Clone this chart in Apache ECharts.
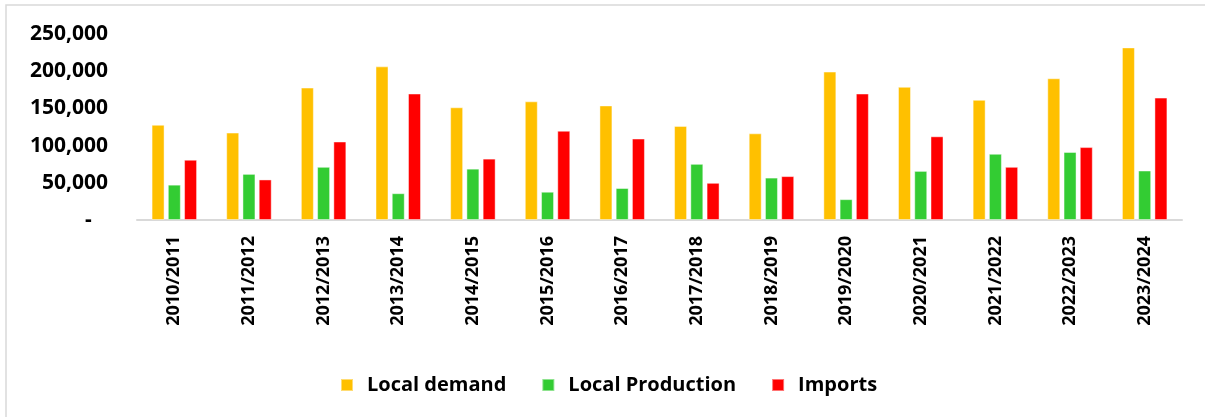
<!DOCTYPE html>
<html>
<head>
<meta charset="utf-8">
<script src="https://cdn.jsdelivr.net/npm/echarts@6/dist/echarts.min.js"></script>
<style>
  html, body { margin: 0; padding: 0; background: #fff; }
  #chart { width: 1205px; height: 417px; }
</style>
</head>
<body>
<div id="chart"></div>
<script>
// Seasons on the category axis
const seasons = ['2010/2011', '2011/2012', '2012/2013', '2013/2014', '2014/2015',
  '2015/2016', '2016/2017', '2017/2018', '2018/2019', '2019/2020',
  '2020/2021', '2021/2022', '2022/2023', '2023/2024'];

// Volumes per season
const localDemand = [128000, 117500, 178000, 206500, 151500, 159500, 154000,
  126500, 116500, 199500, 179000, 161500, 190500, 232000];
const localProduction = [47500, 62000, 71500, 36000, 69000, 38000, 43000,
  75500, 57000, 28000, 66000, 89000, 91500, 66500];
const imports = [81000, 54500, 105500, 170000, 82500, 120000, 109500,
  50000, 59000, 170000, 112500, 71500, 98000, 164500];

const seriesNames = ['Local demand', 'Local Production', 'Imports'];
const seriesColors = ['#FFC000', '#33CC33', '#FF0000'];

const FONT = 'Open Sans';

const chart = echarts.init(document.getElementById('chart'), null, { renderer: 'canvas' });

function barSeries(name, data, color) {
  return {
    name: name,
    type: 'bar',
    data: data,
    barWidth: 13,
    barGap: '25%',
    itemStyle: { color: color, borderColor: 'rgba(255,255,255,0.45)', borderWidth: 1 },
    emphasis: { disabled: true }
  };
}

chart.setOption({
  animation: false,
  backgroundColor: '#ffffff',
  graphic: [{
    type: 'rect',
    silent: true,
    shape: { x: 6, y: 5, width: 1300, height: 500 },
    style: { fill: 'none', stroke: '#d9d9d9', lineWidth: 1.5 }
  }],
  grid: { left: 137, right: 23, top: 34, bottom: 197, containLabel: false },
  legend: {
    data: seriesNames,
    left: 335,
    top: 370,
    icon: 'rect',
    itemWidth: 12,
    itemHeight: 12,
    itemGap: 35,
    selectedMode: false,
    textStyle: { fontFamily: FONT, fontWeight: 'bold', fontSize: 20, color: '#000', padding: [0, 0, 0, 9] }
  },
  xAxis: {
    type: 'category',
    data: seasons,
    axisLine: { show: true, lineStyle: { color: '#d9d9d9', width: 2 } },
    axisTick: { show: false },
    axisLabel: {
      rotate: 90,
      margin: 16,
      interval: 0,
      fontFamily: FONT,
      fontWeight: 'bold',
      fontSize: 18,
      color: '#000'
    }
  },
  yAxis: {
    type: 'value',
    min: 0,
    max: 250000,
    interval: 50000,
    axisLine: { show: false },
    axisTick: { show: false },
    splitLine: { show: false },
    axisLabel: {
      margin: 29,
      fontFamily: FONT,
      fontWeight: 'bold',
      fontSize: 21,
      color: '#000',
      formatter: function (v) {
        return v === 0 ? '-   ' : v.toLocaleString('en-US');
      }
    }
  },
  series: [
    barSeries(seriesNames[0], localDemand, seriesColors[0]),
    barSeries(seriesNames[1], localProduction, seriesColors[1]),
    barSeries(seriesNames[2], imports, seriesColors[2])
  ]
});
</script>
</body>
</html>
